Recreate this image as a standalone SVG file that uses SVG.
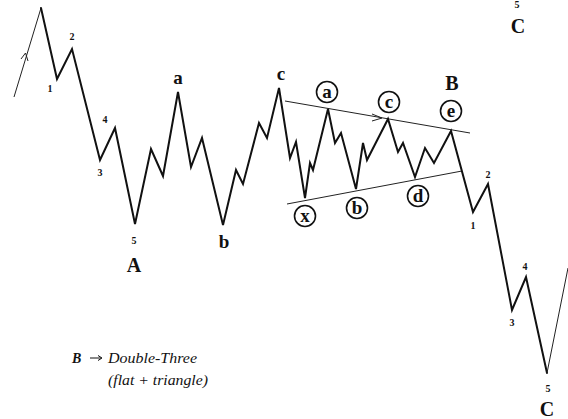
<svg xmlns="http://www.w3.org/2000/svg" width="568" height="419" viewBox="0 0 568 419">
<style>
.wave{fill:none;stroke:#111;stroke-width:2;stroke-linejoin:miter;stroke-linecap:round}
.thin{fill:none;stroke:#222;stroke-width:1}
.num{font-family:"Liberation Serif",serif;font-weight:bold;font-size:10px;fill:#111;text-anchor:middle}
.lc{font-family:"Liberation Serif",serif;font-weight:bold;font-size:19px;fill:#111;text-anchor:middle}
.uc{font-family:"Liberation Serif",serif;font-weight:bold;font-size:20px;fill:#111;text-anchor:middle}
.circ{fill:#fff;stroke:#111;stroke-width:1.6}
.cl{font-family:"Liberation Serif",serif;font-weight:bold;font-size:19px;fill:#111;text-anchor:middle}
.leg{font-family:"Liberation Serif",serif;font-style:italic;font-size:14px;fill:#111}
</style>
<rect width="568" height="419" fill="#fff"/>
<g id="connectors">
<line class="thin" x1="14" y1="97" x2="41" y2="8"/>
<path class="thin" d="M21,59 L25.5,53 L28,61"/>
<line class="thin" x1="285" y1="101" x2="470" y2="133"/>
<path class="thin" d="M372,114 L382,118 L372,121" stroke-width="1.4"/>
<line class="thin" x1="287" y1="204" x2="462" y2="171"/>
<polyline class="wave" points="41,8 57,79 72,49 100,160 115,128 135,224 151,149 163,176 178,92 191,167 202,138 223,225 236,170 243,184 259,123 267,138 279,88 290,158 296,142 305,198 310,163 313,170 328,109 335,143 341,133 356,189 363,143 367,160 388,119 398,152 403,143 415,177 425,148 434,163 451,131 473,212 488,184 512,310 526,277 547,373"/>
<line class="thin" x1="547" y1="373" x2="568" y2="268"/>
</g>
<g id="labels-impulse">
<text class="num" x="50" y="92">1</text>
<text class="num" x="72" y="40">2</text>
<text class="num" x="100" y="176">3</text>
<text class="num" x="105" y="123">4</text>
<text class="num" x="134" y="244">5</text>
<text class="uc" x="134" y="272">A</text>
</g>
<g id="node-a"><text class="lc" x="178" y="84">a</text></g>
<g id="node-b"><text class="lc" x="224" y="248">b</text></g>
<g id="node-c"><text class="lc" x="281" y="80">c</text></g>
<g id="node-ta"><circle class="circ" cx="327" cy="92" r="10.5"/><text class="cl" x="327" y="98">a</text></g>
<g id="node-tc"><circle class="circ" cx="389" cy="102" r="10.5"/><text class="cl" x="389" y="108">c</text></g>
<g id="node-te"><circle class="circ" cx="451" cy="111" r="10.5"/><text class="cl" x="451" y="117">e</text></g>
<g id="node-tx"><circle class="circ" cx="305" cy="216" r="10.5"/><text class="cl" x="305" y="222">x</text></g>
<g id="node-tb"><circle class="circ" cx="357" cy="208" r="10.5"/><text class="cl" x="357" y="214">b</text></g>
<g id="node-td"><circle class="circ" cx="418" cy="196" r="10.5"/><text class="cl" x="418" y="202">d</text></g>
<g id="node-B"><text class="uc" x="452" y="90">B</text></g>
<g id="labels-c">
<text class="num" x="473" y="229">1</text>
<text class="num" x="488" y="178">2</text>
<text class="num" x="512" y="326">3</text>
<text class="num" x="525" y="270">4</text>
<text class="num" x="548" y="392">5</text>
<text class="uc" x="547" y="416">C</text>
</g>
<g id="node-C-top">
<text class="num" x="517" y="8">5</text>
<text class="uc" x="518" y="33">C</text>
</g>
<g id="legend">
<text class="leg" x="72" y="363" font-weight="bold">B</text>
<line x1="90" y1="358" x2="101" y2="358" stroke="#111" stroke-width="1"/>
<path d="M98,355.5 L102,358 L98,360.5" fill="none" stroke="#111" stroke-width="1"/>
<text class="leg" x="108" y="363" textLength="89" lengthAdjust="spacingAndGlyphs">Double-Three</text>
<text class="leg" x="108" y="385" textLength="100" lengthAdjust="spacingAndGlyphs">(flat + triangle)</text>
</g>
</svg>
